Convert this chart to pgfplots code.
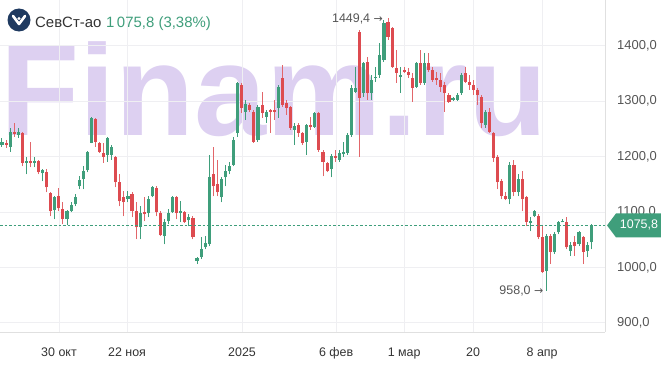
\documentclass[border=0pt]{standalone}
\usepackage{fontspec}
\setmainfont{Liberation Sans}
\newfontfamily\dejavu{DejaVu Sans}
\usepackage{pgfplots}
\pgfplotsset{compat=1.18}
\usepackage{pgfplotstable}
\definecolor{upc}{HTML}{3F9E7B}
\definecolor{dnc}{HTML}{DD4B50}
\definecolor{wm}{HTML}{DDD0F1}
\definecolor{gridc}{HTML}{EFEFF2}
\definecolor{lblc}{HTML}{555555}
\definecolor{xlblc}{HTML}{333333}
\definecolor{logoc}{HTML}{1F3A60}

\pgfplotstableread{
i o h l c
0 1221.8 1234.4 1218.2 1227.2
2 1218.2 1252.4 1209.2 1245.2
4 1239.8 1252.4 1234.4 1245.2
6 1189.4 1200.2 1167.8 1193.0
8 1189.4 1200.2 1180.4 1193.0
10 1169.6 1176.8 1155.2 1175.0
13 1103.0 1128.2 1086.8 1126.4
16 1086.8 1103.0 1076.0 1101.2
17 1101.2 1117.4 1099.4 1112.0
18 1113.8 1131.8 1110.2 1126.4
19 1146.2 1164.2 1140.8 1157.0
20 1158.8 1182.2 1140.8 1173.2
21 1175.0 1210.0 1171.4 1209.2
22 1225.4 1272.2 1224.0 1270.4
26 1203.8 1236.2 1191.2 1234.4
27 1203.8 1221.8 1194.8 1218.2
31 1122.8 1137.2 1117.4 1128.2
34 1072.4 1110.2 1050.8 1097.6
36 1097.6 1128.2 1090.4 1122.8
37 1128.2 1146.2 1126.4 1144.4
40 1056.2 1086.8 1041.8 1081.4
41 1083.2 1104.8 1077.8 1097.6
42 1099.4 1128.2 1098.0 1126.4
44 1097.6 1119.2 1081.4 1101.2
46 1085.0 1095.8 1074.2 1090.4
48 1011.2 1018.4 1005.8 1016.6
49 1018.4 1054.4 1014.8 1032.8
50 1036.4 1056.2 1032.8 1043.6
51 1041.8 1203.8 1038.2 1162.4
54 1126.4 1162.4 1117.4 1158.8
55 1162.4 1185.8 1146.2 1173.2
56 1173.2 1191.2 1167.8 1184.0
57 1185.8 1236.2 1182.2 1230.8
58 1243.4 1335.2 1236.2 1333.4
60 1281.2 1302.8 1266.8 1295.6
63 1230.8 1293.8 1227.2 1290.2
65 1272.2 1284.8 1261.4 1281.2
68 1288.4 1329.8 1270.4 1326.2
72 1248.8 1261.4 1221.8 1256.0
75 1227.2 1259.6 1203.8 1257.8
77 1254.2 1281.2 1252.4 1279.4
81 1176.8 1205.6 1162.4 1202.0
83 1194.8 1212.8 1191.2 1207.4
84 1205.6 1227.2 1200.2 1209.2
85 1207.4 1243.4 1203.8 1239.8
86 1239.8 1329.8 1236.2 1324.4
87 1317.2 1362.2 1315.4 1324.4
89 1315.4 1371.2 1308.2 1369.4
91 1315.4 1347.8 1302.8 1338.8
92 1342.4 1362.2 1335.2 1344.2
93 1347.8 1405.4 1342.4 1383.8
94 1374.8 1446.8 1371.2 1441.4
98 1344.2 1362.2 1315.4 1347.8
102 1326.2 1371.2 1324.4 1369.4
104 1333.4 1387.4 1329.8 1369.4
111 1302.8 1308.2 1301.0 1306.4
112 1302.8 1315.4 1301.0 1311.8
113 1315.4 1351.4 1311.8 1347.8
119 1257.8 1284.8 1252.4 1281.2
125 1122.8 1191.2 1113.8 1185.8
127 1135.4 1167.8 1128.2 1158.8
130 1079.6 1090.4 1065.2 1083.2
131 1092.2 1103.0 1090.4 1101.2
134 993.2 1059.8 958.0 1056.2
136 1027.4 1063.4 1023.8 1059.8
137 1063.4 1083.2 1059.8 1081.4
138 1081.4 1086.8 1081.4 1083.2
140 1029.2 1045.4 1020.2 1040.0
142 1041.8 1065.2 1038.2 1063.4
144 1029.2 1045.4 1018.4 1040.6
145 1045.4 1077.8 1032.8 1075.8
}\upT

\pgfplotstableread{
i o h l c
1 1225.4 1230.8 1216.4 1221.8
3 1245.2 1261.4 1236.2 1241.6
5 1243.4 1245.2 1182.2 1189.4
7 1193.0 1227.2 1180.4 1189.4
9 1193.0 1194.8 1167.8 1171.4
11 1171.4 1176.8 1135.4 1144.4
12 1133.6 1135.4 1092.2 1101.2
14 1128.2 1142.6 1101.2 1106.6
15 1104.8 1117.4 1077.8 1086.8
23 1268.6 1270.4 1218.2 1227.2
24 1225.4 1227.2 1207.4 1209.2
25 1207.4 1225.4 1189.4 1200.2
28 1200.2 1202.0 1144.4 1153.4
29 1153.4 1167.8 1110.2 1119.2
30 1126.4 1137.2 1092.2 1117.4
32 1131.8 1135.4 1090.4 1101.2
33 1101.2 1117.4 1050.8 1072.4
35 1099.4 1126.4 1083.2 1095.8
38 1142.6 1146.2 1092.2 1099.4
39 1097.6 1101.2 1056.2 1058.0
43 1126.4 1128.2 1086.8 1097.6
45 1099.4 1101.2 1080.0 1081.4
47 1088.6 1092.2 1050.8 1054.4
52 1167.8 1218.2 1128.2 1146.2
53 1149.8 1194.8 1128.2 1135.4
59 1329.8 1333.4 1279.4 1288.4
61 1293.8 1297.4 1281.2 1284.8
62 1281.2 1284.8 1225.4 1227.2
64 1293.8 1317.2 1270.4 1279.4
66 1284.8 1286.0 1243.4 1281.2
67 1284.8 1302.8 1266.8 1281.2
69 1342.4 1365.8 1290.2 1293.8
70 1297.4 1302.8 1275.8 1288.4
71 1290.2 1291.0 1248.8 1252.4
73 1257.8 1261.4 1236.2 1243.4
74 1243.4 1245.2 1221.8 1225.4
76 1257.8 1272.2 1248.8 1254.2
78 1279.4 1281.2 1209.2 1212.8
79 1209.2 1212.8 1164.2 1191.2
80 1189.4 1191.2 1171.4 1173.2
82 1202.0 1212.8 1191.2 1198.4
88 1425.2 1428.8 1200.2 1306.4
90 1371.2 1380.2 1302.8 1315.4
95 1443.2 1449.4 1410.8 1416.2
96 1432.4 1434.2 1360.4 1362.2
97 1360.4 1392.8 1333.4 1351.4
99 1356.8 1362.2 1351.4 1353.2
100 1353.2 1360.4 1342.4 1347.8
101 1342.4 1351.4 1299.2 1324.4
103 1369.4 1392.8 1329.8 1333.4
105 1369.4 1387.4 1353.2 1356.8
106 1356.8 1362.2 1335.2 1338.8
107 1342.4 1353.2 1329.8 1338.8
108 1338.8 1351.4 1317.2 1326.2
109 1329.8 1335.2 1281.2 1315.4
110 1311.8 1315.4 1297.4 1299.2
114 1351.4 1362.2 1333.4 1335.2
115 1335.2 1347.8 1320.8 1329.8
116 1329.8 1338.8 1311.8 1320.8
117 1320.8 1324.4 1293.8 1311.8
118 1308.2 1311.8 1252.4 1261.4
120 1281.2 1288.4 1243.4 1245.2
121 1243.4 1245.2 1191.2 1198.4
122 1200.2 1203.8 1140.8 1153.4
123 1155.2 1158.8 1122.8 1128.2
124 1128.2 1135.4 1121.0 1122.8
126 1185.8 1194.8 1128.2 1135.4
128 1158.8 1173.2 1101.2 1122.8
129 1126.4 1128.2 1074.2 1081.4
132 1092.2 1095.8 1050.8 1054.4
133 1054.4 1074.2 990.0 991.4
135 1056.2 1059.8 1005.8 1027.4
139 1081.4 1090.4 1032.8 1036.4
141 1045.4 1056.2 1020.2 1038.2
143 1054.4 1056.2 1005.8 1027.4
}\dnT

\begin{document}
\begin{tikzpicture}[x=1bp,y=1bp]
\useasboundingbox (0,-38) rectangle (661,332);
% watermark
\node[anchor=base west, text=wm, inner sep=0pt, font=\fontsize{130}{130}\selectfont\bfseries] at (0,197) {Finam.ru};
\begin{axis}[
  anchor=south west,
  scale only axis, width=605bp, height=332bp,
  xmin=-0.49, xmax=148.4, ymin=883.4, ymax=1482.8,
  axis x line*=bottom, axis y line*=right,
  axis line style={draw=black!12, line width=0.8bp},
  major tick length=0pt,
  xtick={14.03,30.77,59.08,82.22,98.97,115.95,132.94},
  xticklabels={30 окт,22 ноя,2025,6 фев,1 мар,20,8 апр},
  ytick={900,1000,1100,1200,1300,1400},
  grid=major,
  major grid style={draw=gridc, line width=0.8bp},
  xticklabel style={anchor=base, inner sep=0pt, yshift=-24bp, text=xlblc, font=\fontsize{12.5}{14}\selectfont},
  yticklabel style={anchor=west, inner sep=0pt, xshift=12bp, text=lblc, font=\fontsize{13}{15}\selectfont},
  /pgf/number format/assume math mode=true,
  yticklabel={\pgfmathprintnumber[fixed, fixed zerofill, precision=1, use comma, 1000 sep={}]{\tick}},
  clip=false,
]
% wicks
\addplot[draw=none, mark=none, error bars/.cd, y dir=plus, y explicit, error mark=none,
  error bar style={draw=upc, line width=1bp}]
  table[x=i, y=l, y error expr=\thisrow{h}-\thisrow{l}] {\upT};
\addplot[draw=none, mark=none, error bars/.cd, y dir=plus, y explicit, error mark=none,
  error bar style={draw=dnc!85, line width=1bp}]
  table[x=i, y=l, y error expr=\thisrow{h}-\thisrow{l}] {\dnT};
% bodies
\addplot[draw=none, mark=none, error bars/.cd, y dir=plus, y explicit, error mark=none,
  error bar style={draw=upc, line width=3.1bp}]
  table[x=i, y=o, y error expr=\thisrow{c}-\thisrow{o}] {\upT};
\addplot[draw=none, mark=none, error bars/.cd, y dir=plus, y explicit, error mark=none,
  error bar style={draw=dnc, line width=3.1bp}]
  table[x=i, y=c, y error expr=\thisrow{o}-\thisrow{c}] {\dnT};
% last price line
\addplot[draw=upc, line width=0.9bp, dash pattern=on 2.5bp off 2bp] coordinates {(-0.49,1075.8) (148.4,1075.8)};
\coordinate (pt) at (axis cs:148.4,1075.8);
\node[anchor=east, inner sep=0pt, xshift=-5bp, text=lblc, font=\fontsize{12.5}{14}\selectfont] at (axis cs:95,1449.4) {1449,4 {\dejavu\fontsize{11}{13}\selectfont →}};
\node[anchor=east, inner sep=0pt, xshift=-3bp, text=lblc, font=\fontsize{12.5}{14}\selectfont] at (axis cs:134,958.0) {958,0 {\dejavu\fontsize{11}{13}\selectfont →}};
\end{axis}
% price tag
\fill[upc] ([xshift=2bp]pt) -- ++(9,12) -- ++(45,0) -- ++(0,-24) -- ++(-45,0) -- cycle;
\node[text=white, inner sep=0pt, font=\fontsize{12.5}{14}\selectfont] at ([xshift=34bp]pt) {1075,8};
% header
\fill[logoc] (19,312) circle (11.5);
\draw[white, line width=2.6bp, line cap=round, line join=round] (13,316) -- (19,308) -- (25,316);
\fill[white] (19,313.5) circle (1.6);
\node[anchor=base west, inner sep=0pt, text=xlblc, font=\fontsize{15}{17}\selectfont] at (35,305) {СевСт-ао};
\node[anchor=base west, inner sep=0pt, text=upc, font=\fontsize{15}{17}\selectfont] at (106,305) {1\,075,8 (3,38\%)};
\end{tikzpicture}
\end{document}
